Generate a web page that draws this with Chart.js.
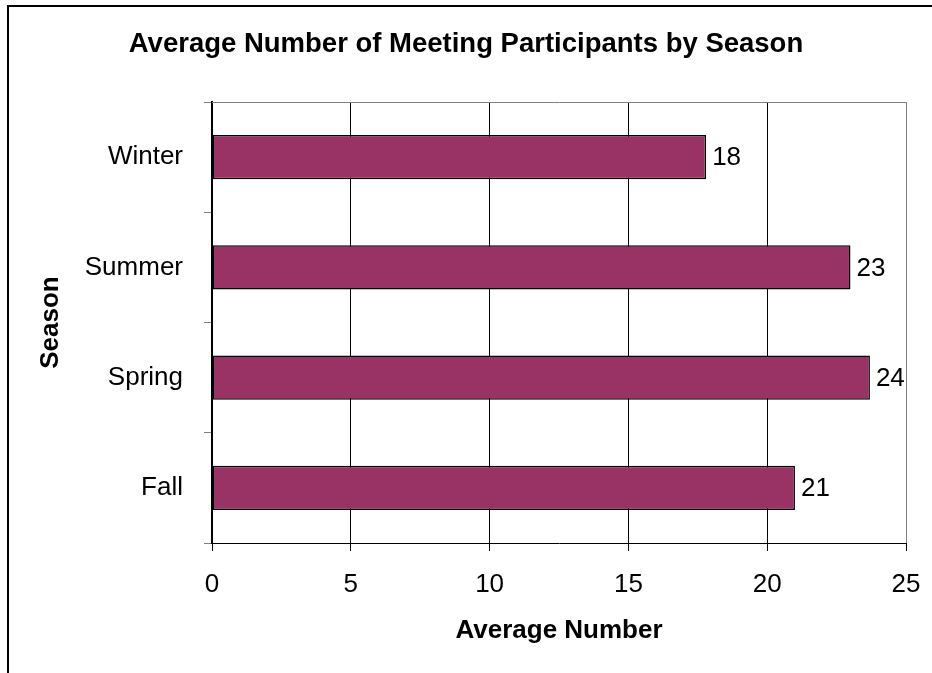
<!DOCTYPE html>
<html>
<head>
<meta charset="utf-8">
<script src="https://cdn.jsdelivr.net/npm/chart.js@4/dist/chart.umd.min.js"></script>
<style>
  html, body { margin: 0; padding: 0; background: #ffffff; }
  #wrap { position: relative; width: 932px; height: 673px; overflow: hidden; }
  #frame { position: absolute; left: 7px; top: 5px; width: 940px; height: 700px;
           border-left: 2px solid #000; border-top: 2px solid #000; box-sizing: border-box; pointer-events: none; }
  canvas { position: absolute; left: 0; top: 0; }
</style>
</head>
<body>
<div id="wrap">
  <canvas id="c" width="932" height="673"></canvas>
  <div id="frame"></div>
</div>
<script>
const chartTitle = 'Average Number of Meeting Participants by Season';
const categories = ['Winter', 'Summer', 'Spring', 'Fall'];
const averages = [17.8, 23.0, 23.7, 21.0];
const xTicks = [0, 5, 10, 15, 20, 25];
const xAxisTitle = 'Average Number';
const yAxisTitle = 'Season';

const FONT = "'Liberation Sans', Arial, sans-serif";

const valueLabels = {
  id: 'valueLabels',
  afterDatasetsDraw(chart) {
    const ctx = chart.ctx;
    const meta = chart.getDatasetMeta(0);
    ctx.save();
    ctx.font = '26px ' + FONT;
    ctx.fillStyle = '#000';
    ctx.textAlign = 'left';
    ctx.textBaseline = 'middle';
    meta.data.forEach((bar, i) => {
      const v = chart.data.datasets[0].data[i];
      ctx.fillText(String(Math.round(v)), bar.x + 6, bar.y + 1);
    });
    ctx.restore();
  }
};

const plotBorder = {
  id: 'plotBorder',
  beforeDatasetsDraw(chart) {
    const {ctx, chartArea: a} = chart;
    ctx.save();
    ctx.strokeStyle = '#808080';
    ctx.lineWidth = 1;
    ctx.beginPath();
    ctx.moveTo(a.left, a.top + 0.5);
    ctx.lineTo(a.right + 0.5, a.top + 0.5);
    ctx.lineTo(a.right + 0.5, a.bottom);
    ctx.stroke();
    ctx.restore();
  }
};

new Chart(document.getElementById('c'), {
  type: 'bar',
  data: {
    labels: categories,
    datasets: [{
      data: averages,
      backgroundColor: '#993366',
      borderColor: '#000000',
      borderWidth: 1.5,
      borderSkipped: false,
      barPercentage: 0.4,
      categoryPercentage: 1.0
    }]
  },
  options: {
    indexAxis: 'y',
    responsive: false,
    animation: false,
    devicePixelRatio: 1,
    layout: { padding: { left: 26, right: 26, top: 0, bottom: 0 } },
    plugins: {
      legend: { display: false },
      tooltip: { enabled: false },
      title: {
        display: true,
        text: chartTitle,
        color: '#000',
        font: { family: FONT, size: 27.5, weight: 'bold' },
        padding: { top: 28, bottom: 41 }
      }
    },
    scales: {
      x: {
        type: 'linear',
        min: 0,
        max: 25,
        afterBuildTicks(scale) { scale.ticks = xTicks.map(v => ({ value: v })); },
        afterFit(scale) { scale.height = 130; scale.paddingLeft = 0; scale.paddingRight = 0; },
        ticks: {
          color: '#000',
          font: { family: FONT, size: 26 },
          padding: 18,
          maxRotation: 0
        },
        grid: {
          color: (c) => (c.tick && c.tick.value === 25) ? '#808080' : '#000000',
          tickColor: '#000000',
          lineWidth: 1,
          drawTicks: true,
          tickLength: 8
        },
        border: { display: true, color: '#000', width: 1 },
        title: {
          display: true,
          text: xAxisTitle,
          color: '#000',
          font: { family: FONT, size: 26, weight: 'bold' },
          padding: { top: 0, bottom: 27 }
        }
      },
      y: {
        afterFit(scale) { scale.width = 186; scale.paddingTop = 0; scale.paddingBottom = 0; },
        ticks: {
          color: '#000',
          font: { family: FONT, size: 26 },
          padding: 21
        },
        grid: {
          offset: true,
          drawOnChartArea: false,
          drawTicks: true,
          tickLength: 8,
          color: '#808080',
          tickColor: '#808080'
        },
        border: { display: true, color: '#000', width: 2 },
        title: {
          display: true,
          text: yAxisTitle,
          color: '#000',
          font: { family: FONT, size: 26, weight: 'bold' },
          padding: { top: 9, bottom: 0 }
        }
      }
    }
  },
  plugins: [plotBorder, valueLabels]
});
</script>
</body>
</html>
